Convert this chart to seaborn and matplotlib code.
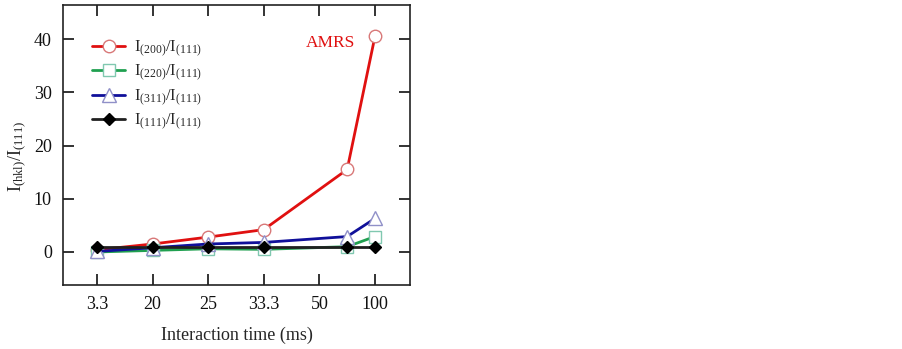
import matplotlib
matplotlib.use("Agg")
import matplotlib.pyplot as plt
import seaborn as sns
import pandas as pd

# Data
tick_labels = ["3.3", "20", "25", "33.3", "50", "100"]
tick_pos = [0, 1, 2, 3, 4, 5]
x_pos = [0, 1, 2, 3, 4.5, 5]
i200 = [0.4, 1.5, 2.8, 4.2, 15.5, 40.5]
i220 = [0.0, 0.3, 0.6, 0.5, 1.0, 2.9]
i311 = [0.1, 0.8, 1.5, 1.8, 2.9, 6.3]
i111 = [1.0, 1.0, 1.0, 1.0, 1.0, 1.0]

labels = [r"$\mathrm{I}_{(200)}/\mathrm{I}_{(111)}$",
          r"$\mathrm{I}_{(220)}/\mathrm{I}_{(111)}$",
          r"$\mathrm{I}_{(311)}/\mathrm{I}_{(111)}$",
          r"$\mathrm{I}_{(111)}/\mathrm{I}_{(111)}$"]

sns.set_theme(style="ticks")
plt.rcParams['font.family'] = ['Liberation Serif', 'DejaVu Serif']
plt.rcParams['mathtext.fontset'] = 'custom'
plt.rcParams['mathtext.rm'] = 'Liberation Serif'
plt.rcParams['mathtext.it'] = 'Liberation Serif:italic'

fig = plt.figure(figsize=(9.02, 3.49), dpi=100)
ax = fig.add_axes([63/902, 1-285/349, (410-63)/902, 280/349])

styles = [
    (i200, "#e01010", "o", "#d87878", "white", 9),
    (i220, "#20a050", "s", "#80c8b0", "white", 9),
    (i311, "#10109a", "^", "#9090c8", "white", 9.5),
    (i111, "#202020", "D", "#000000", "#000000", 6),
]
for (vals, col, mk, mec, mfc, ms), lab in zip(styles, labels):
    df = pd.DataFrame({"x": x_pos, "y": vals})
    sns.lineplot(data=df, x="x", y="y", ax=ax, color=col, lw=2.0,
                 marker=mk, markersize=ms, markeredgecolor=mec,
                 markerfacecolor=mfc, markeredgewidth=1.0, label=lab)

ax.set_xlim(-0.61, 5.63)
ax.set_ylim(-6.2, 46.4)
ax.set_xticks(tick_pos)
ax.set_xticklabels(tick_labels)
ax.set_yticks([0, 10, 20, 30, 40])
ax.tick_params(axis='both', direction='in', length=8, width=1.2, labelsize=13,
               top=True, right=True, pad=8, colors='#111111')
ax.tick_params(axis='y', right=True, labelright=False)
for s in ax.spines.values():
    s.set_linewidth(1.2)
    s.set_color('#222222')

ax.set_xlabel("Interaction time (ms)", fontsize=13, labelpad=10)
ax.set_ylabel(r"$\mathrm{I}_{\mathrm{(hkl)}}/\mathrm{I}_{(111)}$", fontsize=13)
ax.yaxis.set_label_coords(-0.10, 0.46)

ax.text(0.77, 0.864, "AMRS", transform=ax.transAxes, color="#e01010",
        fontsize=12.5, ha="center", va="center")

leg = ax.legend(loc="upper left", bbox_to_anchor=(0.084, 0.88), frameon=False,
                fontsize=12, handlelength=2.0, labelspacing=0.27, handletextpad=0.5,
                borderaxespad=0, borderpad=0)

fig.savefig("out.png", dpi=100)
